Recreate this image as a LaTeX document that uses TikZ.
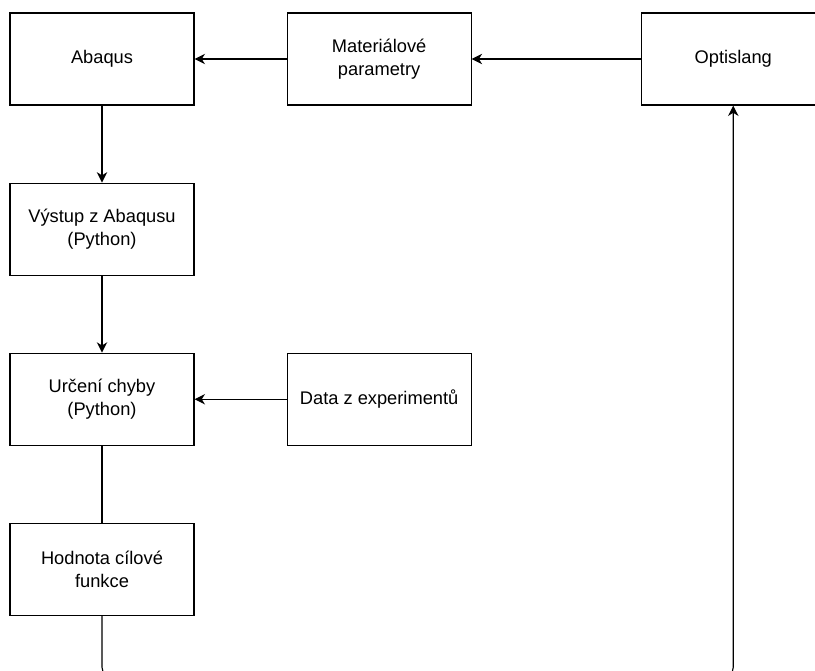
\documentclass[tikz,border=0pt]{standalone}
\usepackage{fontspec}
\setmainfont{Liberation Sans}
\usetikzlibrary{arrows.meta,positioning}

\begin{document}
\begin{tikzpicture}[->,>={Stealth[length=0.26cm,width=0.26cm,inset=0.08cm]},auto,line width=0.8pt,
		node distance=1.925cm and 2.3cm,
		main box/.style={rectangle,draw,minimum width=4.6cm,minimum height=2.3cm,
			align=center,font=\fontsize{13}{16.4}\selectfont}]
		\useasboundingbox (0,0) rectangle (20.375,-16.775);
		\node[main box] (abaqus) at (2.55,-1.475) {Abaqus};
		\node[main box] (mat) [right=of abaqus] {Materiálové\\parametry};
		\node[main box] (opt) [right=4.225cm of mat] {Optislang};
		\node[main box] (vystup) [below=of abaqus] {Výstup z Abaqusu\\(Python)};
		\node[main box] (urceni) [below=of vystup] {Určení chyby\\(Python)};
		\node[main box] (data) [right=of urceni] {Data z experimentů};
		\node[main box] (hodnota) [below=of urceni] {Hodnota cílové\\funkce};
		\path
		(opt) edge (mat)
		
		(mat) edge (abaqus)
		
		(abaqus) edge (vystup)
		
		(vystup) edge (urceni)
		
		(data) edge (urceni)
		
		(urceni) edge[-] (hodnota);
		\draw[rounded corners=0.25cm] (hodnota.south) -- ++(0,-1.53) -| (opt.south);
		\end{tikzpicture}
\end{document}
